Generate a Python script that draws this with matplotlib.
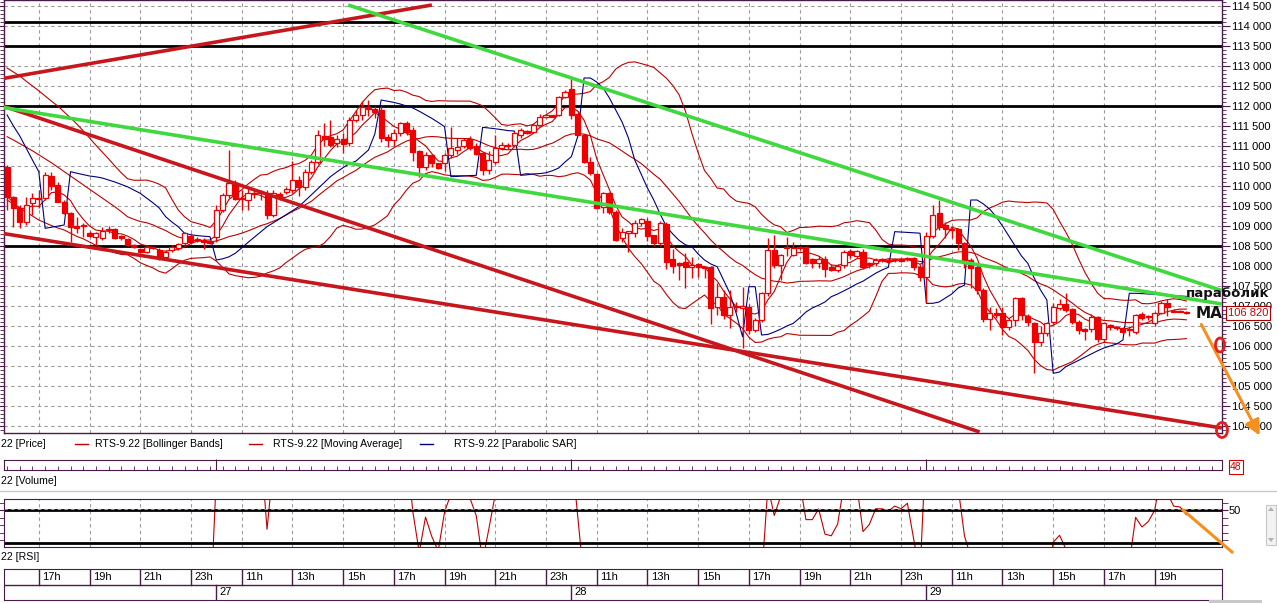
import numpy as np
import pandas as pd
import matplotlib
matplotlib.use("Agg")
import matplotlib.pyplot as plt
from matplotlib.lines import Line2D
from matplotlib.patches import Ellipse, FancyArrowPatch, Rectangle, Polygon
from matplotlib.ticker import MultipleLocator

# ---------------- data (15-minute candles, RTS-9.22) ----------------
sessions = [("26", "15:45", "23:45"), ("27", "10:00", "23:45"),
            ("28", "10:00", "23:45"), ("29", "10:00", "20:15")]

opens = [110483, 109733, 109442, 109108, 109567, 109667, 109692, 110250, 110025, 109608,
         109317, 109000, 109025, 108817, 108733, 108692, 108900, 108917, 108742, 108667,
         108517, 108425, 108358, 108450, 108400, 108233, 108400, 108442, 108567, 108750,
         108675, 108650, 108620, 108725, 109400, 109775, 110067, 109700, 109650, 109833,
         109817, 109833, 109275, 109800, 109858, 109900, 110150, 109983, 110358, 110608,
         111250, 111233, 111067, 111167, 111067, 111650, 111775, 111983, 111917, 111900,
         111217, 111150, 111317, 111567, 111400, 110875, 110467, 110775, 110567, 110567,
         110775, 110900, 111000, 111167, 111000, 110817, 110400, 110608, 110942, 111025,
         111025, 111275, 111383, 111358, 111525, 111733, 111767, 111775, 112233, 112425,
         111792, 111275, 110608, 110300, 109483, 109817, 109358, 108692, 108833, 108833,
         109083, 109133, 108775, 108567, 109050, 108167, 108067, 108108, 107967, 108050,
         107983, 107983, 106983, 107233, 106775, 107000, 106950, 106983, 106400, 106650,
         107325, 108400, 108025, 108483, 108275, 108450, 108483, 108167, 108067, 108175,
         107983, 107900, 108025, 108383, 108250, 108358, 108067, 108083, 108150, 108150,
         108150, 108167, 108167, 108192, 107983, 107733, 108750, 109317, 109025, 108933,
         108917, 108567, 108150, 107967, 107400, 106667, 106817, 106817, 106483, 106650,
         107192, 106750, 106583, 106108, 106317, 106608, 106942, 107042, 106917, 106608,
         106417, 106417, 106717, 106167, 106517, 106483, 106442, 106400, 106358, 106800,
         106717, 106567, 106817, 107083, 106883, 106875, 106858]
highs = [110520, 109760, 109525, 109733, 109817, 109900, 110358, 110358, 110100, 109650,
         109340, 109233, 109067, 108875, 108858, 108983, 109000, 108950, 108775, 108700,
         108540, 108450, 108525, 108500, 108442, 108400, 108525, 108575, 108858, 108817,
         108725, 108700, 108650, 109525, 109817, 110900, 110150, 109900, 109917, 109900,
         109900, 109900, 109900, 109850, 109975, 110633, 110250, 110417, 110650, 111400,
         111567, 111650, 111283, 111333, 111725, 111900, 112125, 112150, 112000, 112000,
         111300, 111425, 111600, 111633, 111483, 110900, 110858, 110800, 110583, 110825,
         111467, 111192, 111200, 111250, 111067, 110850, 110875, 111267, 111100, 111067,
         111367, 111450, 111400, 111583, 111800, 111783, 111783, 112250, 112400, 112700,
         111867, 111300, 110733, 110333, 109842, 109850, 109400, 108950, 108875, 109150,
         109200, 109200, 108783, 109117, 109100, 108433, 108100, 108333, 108233, 108067,
         108000, 108000, 107567, 107400, 107400, 107100, 107480, 107050, 106700, 107350,
         108700, 108775, 108300, 108733, 108600, 108500, 108500, 108200, 108250, 108250,
         108050, 108050, 108400, 108417, 108400, 108417, 108100, 108200, 108200, 108183,
         108200, 108200, 108217, 108217, 108050, 108850, 109525, 109650, 109100, 109000,
         108950, 108600, 108200, 108050, 107450, 106983, 106950, 106983, 106700, 107217,
         107217, 106800, 106600, 106500, 106600, 107083, 107183, 107317, 106950, 106650,
         106450, 106800, 106750, 106600, 106550, 106500, 106475, 106500, 106800, 106850,
         106783, 106850, 107133, 107183, 106917, 106900, 106870]
lows = [109400, 108983, 108942, 109025, 109275, 109442, 109650, 109900, 109600, 109300,
        108608, 108817, 108733, 108733, 108525, 108650, 108833, 108683, 108650, 108508,
        108442, 108325, 108333, 108425, 108150, 108167, 108358, 108400, 108525, 108583,
        108600, 108433, 108558, 108608, 109350, 109700, 109650, 109400, 109400, 109700,
        109650, 109183, 109225, 109650, 109800, 109833, 109750, 109900, 110300, 110550,
        111000, 110967, 110983, 110833, 111000, 111600, 111650, 111750, 111700, 111100,
        110983, 111000, 111250, 111283, 110617, 110233, 110400, 110483, 110433, 110383,
        110708, 110800, 110950, 110900, 110783, 110267, 110300, 110550, 110900, 110917,
        110983, 111200, 111300, 111317, 111500, 111700, 111717, 111750, 112200, 111683,
        111267, 110567, 110267, 109425, 109317, 109308, 108617, 108608, 108358, 108733,
        109000, 108617, 108500, 108508, 107917, 107817, 107650, 107450, 107700, 107717,
        107700, 106550, 106783, 106683, 106450, 106850, 105950, 106300, 106350, 106600,
        107250, 107950, 107650, 108250, 108250, 108400, 108050, 107950, 107950, 107717,
        107867, 107850, 107950, 108200, 108200, 107917, 107950, 108000, 108100, 108083,
        108100, 108100, 108117, 107900, 107633, 107067, 108700, 108900, 108700, 108700,
        108400, 107950, 107450, 107300, 106600, 106400, 106700, 106283, 106400, 106500,
        106650, 106500, 105317, 106000, 106250, 106550, 106900, 106850, 106550, 106300,
        106150, 106350, 106100, 106100, 106400, 106400, 106300, 106250, 106300, 106650,
        106650, 106500, 106800, 106750, 106850, 106840, 106810]
closes = [109733, 109442, 109108, 109525, 109692, 109683, 110275, 110000, 109608, 109317,
          108983, 108958, 108992, 108742, 108817, 108875, 108925, 108708, 108700, 108525,
          108475, 108342, 108483, 108475, 108192, 108358, 108483, 108550, 108817, 108608,
          108650, 108600, 108575, 109400, 109775, 110067, 109667, 109667, 109833, 109817,
          109833, 109275, 109817, 109750, 109917, 110150, 109983, 110358, 110608, 111275,
          111167, 111025, 111167, 111042, 111650, 111775, 111967, 111917, 111858, 111192,
          111150, 111333, 111567, 111358, 110858, 110467, 110775, 110583, 110442, 110775,
          110942, 110983, 111150, 110942, 110800, 110400, 110650, 110942, 111025, 111000,
          111317, 111400, 111333, 111525, 111717, 111750, 111742, 112233, 112342, 111775,
          111275, 110608, 110317, 109442, 109817, 109358, 108650, 108858, 108858, 109083,
          109167, 108758, 108567, 109083, 108108, 108000, 108017, 107967, 108025, 107967,
          107967, 106942, 107233, 106775, 106983, 106967, 107000, 106400, 106650, 107325,
          108400, 108025, 108275, 108450, 108450, 108483, 108067, 108067, 108175, 107917,
          107900, 108000, 108358, 108275, 108367, 107967, 108025, 108150, 108150, 108133,
          108167, 108150, 108183, 107967, 107733, 108750, 109275, 108983, 108917, 108900,
          108567, 108150, 107942, 107400, 106667, 106817, 106800, 106483, 106650, 107192,
          106775, 106608, 106108, 106317, 106567, 106983, 107050, 106900, 106608, 106400,
          106400, 106717, 106167, 106567, 106483, 106458, 106358, 106417, 106775, 106692,
          106733, 106817, 107083, 106967, 106875, 106870, 106820]

# Parabolic SAR
sar_values = [111775, 111500, 111250, 110950, 110650, 110358,
              108942, 108970, 109000, 109025,
              110358, 110320, 110285, 110250, 110230, 110200, 110150, 110100, 110040, 109980,
              109900, 109817, 109700, 109580, 109450, 109233, 109100, 108980, 108817, 108780,
              108760, 108745, 108733,
              108150, 108180, 108230, 108320, 108450, 108590, 108720, 108850, 108983, 109080,
              109180, 109280, 109380, 109483, 109630, 109780, 109930, 110080, 110233, 110350,
              110460, 110560, 110620, 110760, 110900, 111300,
              112150, 112120, 112090, 112050, 112000, 111950, 111870, 111780, 111690, 111590,
              111483,
              110233, 110240, 110250, 110260, 110267,
              111467, 111450, 111430, 111410, 111385, 111375,
              110267, 110280, 110300, 110310, 110330, 110380, 110450, 110600, 110733, 111233,
              112700, 112700, 112600, 112450, 112200, 111900, 111600, 111200, 110650, 110300,
              109950, 109650, 109300, 108983, 108800, 108640, 108530, 108483, 108300, 108150,
              108050, 107983, 107650, 107317, 106817, 106233,
              107483, 107483, 106275, 106290, 106350, 106420, 106500, 106567, 106700, 106850,
              106950, 107020, 107100, 107233, 107300, 107380, 107460, 107550, 107620, 107720,
              107820, 107900, 107967,
              108858, 108850, 108840, 108830, 108820,
              107067, 107067, 107100, 107200, 107300, 107450, 107520,
              109650, 109650, 109550, 109420, 109233, 109000, 108750, 108500, 108250, 108067,
              107700, 107400, 107150,
              105317, 105350, 105483, 105560, 105640, 105720, 105800, 105880, 105950, 106000,
              106050, 106150,
              107317, 107317, 107310, 107300, 107290, 107280, 107270, 107260, 107250, 107240]

# Bollinger values at the left edge of the chart (window reaches back before the visible data)
bb_upper_head = [112950, 112850, 112750, 112620, 112500, 112380, 112250, 112120, 112000, 111850,
                 111700, 111550, 111380, 111200, 111020, 110850, 110680, 110500, 110330]
bb_middle_head = [111233, 111150, 111060, 110970, 110880, 110780, 110680, 110580, 110470, 110360,
                  110250, 110140, 110030, 109920, 109810, 109700, 109590, 109480, 109360]
bb_lower_head = [109650, 109550, 109450, 109350, 109250, 109150, 109080, 109010, 108950, 108900,
                 108820, 108740, 108680, 108600, 108520, 108450, 108390, 108330, 108290]

# user-drawn levels and trend lines (candle index, price)
level_prices = [114100, 113500, 112000, 108500]
red_trend_start = [(-1.1, 112675), (-0.65, 112000), (-1.1, 108825)]
red_trend_end = [(67.0, 114525), (153.4, 103850), (191.6, 103950)]
green_trend_start = [(53.8, 114525), (-1.1, 111975)]
green_trend_end = [(191.6, 107385), (191.6, 107050)]

last_price_label = "106 820"
volume_label = "48"

# ---------------- derived time axis ----------------
times = []
for day, t0, t1 in sessions:
    times.extend(pd.date_range(f"2022-07-{day} {t0}", f"2022-07-{day} {t1}", freq="15min"))
times = pd.DatetimeIndex(times)
n = len(times)
xi = np.arange(n)
o = np.array(opens, float); h = np.array(highs, float)
l = np.array(lows, float); c = np.array(closes, float)

hour_ticks = [i for i, t in enumerate(times) if t.minute == 0 and t.hour % 2 == 1 and t.hour >= 11]
hour_labels = [f"{times[i].hour}h" for i in hour_ticks]
day_ticks = [i for i, t in enumerate(times) if i > 0 and t.date() != times[i - 1].date()]
day_labels = [str(times[i].day) for i in day_ticks]

# indicators
cs = pd.Series(c)
nh = len(bb_upper_head)
bb_mid = cs.rolling(20, min_periods=1).mean().to_numpy()
bb_std = cs.rolling(20, min_periods=2).std(ddof=0).bfill().to_numpy()
bb_up = bb_mid + 2 * bb_std
bb_lo = bb_mid - 2 * bb_std
bb_up[:nh] = bb_upper_head
bb_lo[:nh] = bb_lower_head
bb_mid[:nh] = bb_middle_head
ma = cs.rolling(5, min_periods=1).mean()
sar = np.array(sar_values, float)

d = cs.diff()
up = d.clip(lower=0).ewm(alpha=1 / 14, adjust=False).mean()
dn = (-d.clip(upper=0)).ewm(alpha=1 / 14, adjust=False).mean()
rsi = 100 - 100 / (1 + up / dn)

# ---------------- figure ----------------
W, H = 1277, 603
fig = plt.figure(figsize=(W / 100, H / 100), dpi=100)
fig.patch.set_facecolor("white")
plt.rcParams["font.family"] = ["Liberation Sans", "DejaVu Sans"]

def ax_at(x0, y0, x1, y1):
    return fig.add_axes([x0 / W, 1 - y1 / H, (x1 - x0) / W, (y1 - y0) / H])

def px2fig(x, y):
    return x / W, 1 - y / H

X0, X1 = 4, 1222
XL = ((X0 - 38.8) / 6.34 + 5, (X1 - 38.8) / 6.34 + 5)
AXC = "#4a1a4a"
GRID = "#9a9a9a"
IND = "#C00000"

# price panel
ax = ax_at(X0, 0, X1, 433)
ax.set_xlim(*XL)
ax.set_ylim(114500 - 427 * 25, 114500 + 6 * 25)
for s in ax.spines.values():
    s.set_color(AXC); s.set_linewidth(1)
yt = np.arange(104000, 114501, 500)
ax.yaxis.tick_right()
ax.set_yticks(yt)
ax.set_yticklabels([f"{int(v):,}".replace(",", " ") for v in yt])
ax.yaxis.set_minor_locator(MultipleLocator(100))
ax.tick_params(axis="y", which="major", direction="out", length=6, color=AXC,
               labelsize=8, pad=1, left=True, right=True, labelleft=False, labelright=True)
ax.tick_params(axis="y", which="minor", direction="out", length=3, color=AXC, left=True, right=True)
ax.set_xticks(hour_ticks)
ax.tick_params(axis="x", length=0, labelbottom=False)
ax.grid(True, which="major", linestyle=(0, (3, 3)), color=GRID, linewidth=0.8)
ax.set_axisbelow(True)

for lv in level_prices:
    ax.axhline(lv, color="black", lw=2, zorder=2)

for series in (bb_up, bb_mid, bb_lo, ma):
    ax.plot(xi, series, color=IND, lw=0.8, zorder=3)
ax.plot(xi, sar, color="#000080", lw=0.8, zorder=3)

# candles
ax.vlines(xi, l, h, color="#EE0000", lw=1, zorder=4)
body = np.where(np.abs(c - o) < 30, np.where(c >= o, 30, -30), c - o)
bull = c >= o
ax.bar(xi[bull], body[bull], bottom=o[bull], width=0.8, facecolor="white",
       edgecolor="#EE0000", linewidth=0.9, zorder=5)
ax.bar(xi[~bull], body[~bull], bottom=o[~bull], width=0.8, facecolor="#EE0000",
       edgecolor="#EE0000", linewidth=0.9, zorder=5)

for (x0, y0), (x1, y1) in zip(red_trend_start, red_trend_end):
    ax.plot([x0, x1], [y0, y1], color="#C8161D", lw=2.6, zorder=6, solid_capstyle="butt")
for (x0, y0), (x1, y1) in zip(green_trend_start, green_trend_end):
    ax.plot([x0, x1], [y0, y1], color="#3FD83F", lw=2.6, zorder=6, solid_capstyle="butt")

# legend row
fig.text(*px2fig(1, 444), "22 [Price]", fontsize=7.6, va="center", ha="left")
leg = [(75, 95, "#C00000", "RTS-9.22 [Bollinger Bands]"),
       (249, 273, "#C00000", "RTS-9.22 [Moving Average]"),
       (420, 454, "#000080", "RTS-9.22 [Parabolic SAR]")]
for lx, tx, col, txt in leg:
    fig.add_artist(Line2D([lx / W, (lx + 13) / W], [1 - 444 / H] * 2, color=col, lw=1))
    fig.text(*px2fig(tx, 444), txt, fontsize=7.6, va="center", ha="left")

# volume strip
axv = ax_at(X0, 460, X1, 470)
axv.set_xlim(*XL); axv.set_ylim(0, 1)
axv.set_yticks([])
axv.set_xticks(day_ticks)
axv.xaxis.set_minor_locator(MultipleLocator(2))
axv.tick_params(axis="x", which="major", direction="in", length=8, color=AXC, labelbottom=False)
axv.tick_params(axis="x", which="minor", direction="in", length=3, color=AXC)
for s in axv.spines.values():
    s.set_color(AXC)
fig.text(*px2fig(1236, 467), volume_label, fontsize=7.5, color="#CC0000", ha="center", va="center",
         bbox=dict(boxstyle="square,pad=0.15", fc="white", ec="#CC0000", lw=0.8))
fig.text(*px2fig(1, 481), "22 [Volume]", fontsize=7.6, va="center", ha="left")
fig.add_artist(Line2D([0, 1], [1 - 491 / H] * 2, color="#c8c8c8", lw=1))

# RSI panel
axr = ax_at(X0, 499, X1, 547)
axr.set_xlim(*XL)
axr.set_ylim(45.07, 51.47)
axr.plot(xi, rsi, color=IND, lw=0.8)
axr.axhline(50, color="black", lw=2)
axr.axhline(45.6, color="black", lw=2)
axr.set_xticks(hour_ticks)
axr.set_yticks([50])
axr.yaxis.tick_right()
axr.yaxis.set_minor_locator(MultipleLocator(1))
axr.tick_params(axis="x", length=0, labelbottom=False)
axr.tick_params(axis="y", which="both", direction="out", length=4, color=AXC, labelsize=8, pad=1,
                left=True, right=True, labelleft=False, labelright=True)
axr.grid(True, axis="x", linestyle=(0, (3, 3)), color=GRID, lw=0.8)
axr.axhline(50.2, color=GRID, lw=0.8, ls=(0, (3, 3)))
for s in axr.spines.values():
    s.set_color(AXC)
fig.text(*px2fig(1, 557), "22 [RSI]", fontsize=7.6, va="center", ha="left")

# small scroll widget right of the RSI panel and the bottom scroll bar
fig.add_artist(Rectangle(px2fig(1266, 545), 10 / W, 40 / H, transform=fig.transFigure,
                         fc="#f2f2f2", ec="#c8c8c8", lw=0.8))
fig.add_artist(Polygon([px2fig(1268, 511), px2fig(1274, 511), px2fig(1271, 507)], closed=True,
                       transform=fig.transFigure, fc="#b0b0b0", ec="none"))
fig.add_artist(Polygon([px2fig(1268, 538), px2fig(1274, 538), px2fig(1271, 542)], closed=True,
                       transform=fig.transFigure, fc="#b0b0b0", ec="none"))
fig.add_artist(Rectangle(px2fig(1209, 603), 53 / W, 3 / H, transform=fig.transFigure,
                         fc="#c8c8c8", ec="none"))

# time axis
axt = ax_at(X0, 569, X1, 600)
axt.set_xlim(*XL); axt.set_ylim(0, 2)
axt.set_xticks([]); axt.set_yticks([])
for s in axt.spines.values():
    s.set_color(AXC)
axt.axhline(1, color=AXC, lw=1)
for k, lab in zip(hour_ticks, hour_labels):
    axt.plot([k, k], [1, 2], color=AXC, lw=1)
    axt.text(k + 0.55, 1.5, lab, fontsize=8, va="center", ha="left")
for k, lab in zip(day_ticks, day_labels):
    axt.plot([k, k], [0, 1], color=AXC, lw=1)
    axt.text(k + 0.55, 0.5, lab, fontsize=8, va="center", ha="left")

# annotations
fig.text(*px2fig(1248, 313), last_price_label, fontsize=8, color="#CC0000", ha="center", va="center",
         bbox=dict(boxstyle="square,pad=0.15", fc="white", ec="#AA0000", lw=0.8), zorder=10)
fig.text(*px2fig(1186, 297), "параболик", fontsize=9.5, fontweight="bold", color="#111111",
         ha="left", va="baseline", family="DejaVu Sans", zorder=11)
fig.text(*px2fig(1196, 318), "MA", fontsize=11, fontweight="bold", color="#111111",
         ha="left", va="baseline", family="DejaVu Sans", zorder=11)
ORANGE = "#F5901E"
fig.add_artist(FancyArrowPatch(px2fig(1200, 322), px2fig(1261, 438), transform=fig.transFigure,
                               arrowstyle="-|>,head_length=6,head_width=3", color=ORANGE, lw=2.2,
                               mutation_scale=1.5))
fig.add_artist(Line2D([1183 / W, 1232 / W], [1 - 510 / H, 1 - 552 / H], color=ORANGE, lw=2.2))
fig.add_artist(Ellipse(px2fig(1220, 345), 9 / W, 14 / H, transform=fig.transFigure,
                       fill=False, ec="#E0201E", lw=2))
fig.add_artist(Ellipse(px2fig(1222, 430), 11 / W, 15 / H, transform=fig.transFigure,
                       fill=False, ec="#E0201E", lw=2))

fig.savefig("out.png", dpi=100)
